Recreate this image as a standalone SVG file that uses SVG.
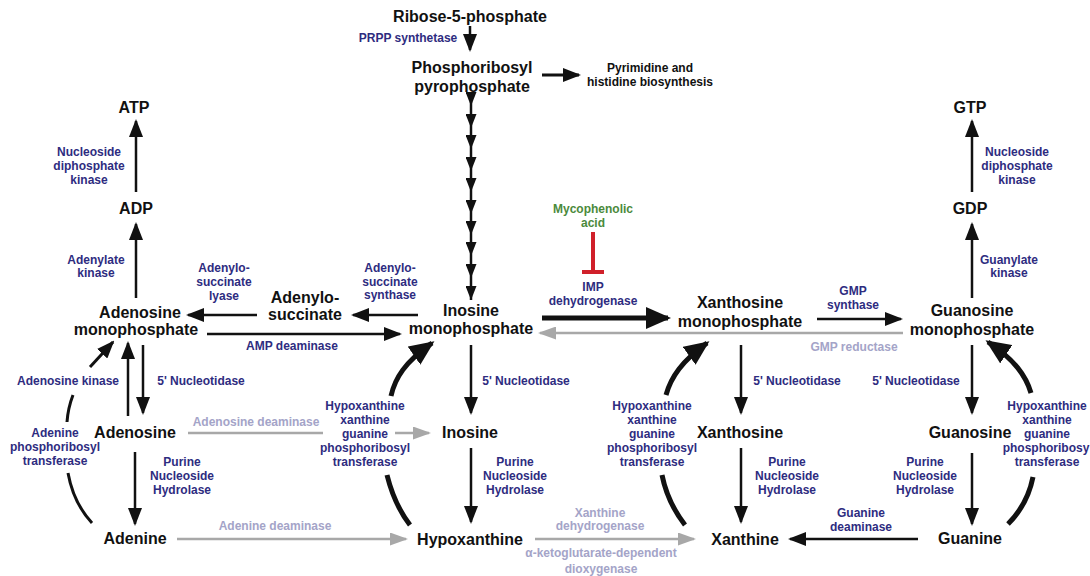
<svg xmlns="http://www.w3.org/2000/svg" width="1090" height="576" viewBox="0 0 1090 576">
<defs>
<style>
.n{font-family:"Liberation Sans",Arial,sans-serif;font-weight:bold;font-size:16px;fill:#111;text-anchor:middle}
.e{font-family:"Liberation Sans",Arial,sans-serif;font-weight:bold;font-size:12px;fill:#2e2c80;text-anchor:middle}
.g{font-family:"Liberation Sans",Arial,sans-serif;font-weight:bold;font-size:12px;fill:#a4a4c8;text-anchor:middle}
.k{font-family:"Liberation Sans",Arial,sans-serif;font-weight:bold;font-size:12px;fill:#111;text-anchor:middle}
.m{font-family:"Liberation Sans",Arial,sans-serif;font-weight:bold;font-size:12px;fill:#4b8a3c;text-anchor:middle}
.c{stroke:#111;stroke-width:2.5;fill:none;marker-end:url(#ah)}
.t{stroke:#111;stroke-width:5;fill:none}
.gr{stroke:#a8a8a8;stroke-width:2.5;fill:none}
</style>
<marker id="ah" markerUnits="userSpaceOnUse" markerWidth="18" markerHeight="14" viewBox="0 0 18 14" refX="16" refY="7" orient="auto"><path d="M0,0 L18,7 L0,14 z" fill="#111"/></marker>
<marker id="ab" markerUnits="userSpaceOnUse" markerWidth="25" markerHeight="22" viewBox="0 0 25 22" refX="22" refY="11" orient="auto"><path d="M0,0 L25,11 L0,22 z" fill="#111"/></marker>
<marker id="ag" markerUnits="userSpaceOnUse" markerWidth="18" markerHeight="13" viewBox="0 0 18 13" refX="16" refY="6.5" orient="auto"><path d="M0,0 L18,6.5 L0,13 z" fill="#a8a8a8"/></marker>
<marker id="as" markerUnits="userSpaceOnUse" markerWidth="14" markerHeight="11" viewBox="0 0 14 11" refX="14" refY="5.5" orient="auto"><path d="M0,0 L14,5.5 L0,11 z" fill="#111"/></marker>
</defs>
<rect width="1090" height="576" fill="#fff"/>

<g id="connectors">
  <path class="c" d="M470 26 V50"/>
  <path class="c" d="M542 75 H579" style="stroke-width:3"/>
  <polyline points="471,95 471,106 471,128 471,149 471,171 471,192 471,214 471,235 471,256 471,278 471,300" fill="none" stroke="#111" stroke-width="2.5" marker-mid="url(#as)" marker-end="url(#as)"/>
  <path class="c" d="M418 315 H353"/>
  <path class="c" d="M257 315 H188"/>
  <path class="c" d="M136 298 V224"/>
  <path class="c" d="M136 192 V121"/>
  <path class="c" d="M207 334 H400"/>
  <path class="c" d="M143 345 V413"/>
  <path class="c" d="M128 416 V343"/>
  <path class="c" d="M135 452 V524"/>
  <path class="gr" d="M188 433 H323"/>
  <path class="gr" d="M395 433 H429" marker-end="url(#ag)"/>
  <path class="gr" d="M177 539 H406" marker-end="url(#ag)"/>
  <path d="M92 523 C80 510 72 495 68 473" stroke="#111" stroke-width="3" fill="none"/>
  <path d="M67 422 Q68 408 73 395" stroke="#111" stroke-width="3" fill="none"/>
  <path class="c" d="M90 367 L113 342" style="stroke-width:3"/>
  <path class="c" d="M471 345 V413"/>
  <path class="c" d="M471 448 V522"/>
  <path class="t" d="M410 525 C400 512 392 495 387 475"/>
  <path class="t" d="M391 396 C395 378 405 362 432 343" marker-end="url(#ab)"/>
  <path class="t" d="M542 318 H668" marker-end="url(#ab)"/>
  <path class="gr" d="M903 333 H540" marker-end="url(#ag)"/>
  <path d="M593 232 V272 M582 272 H604" stroke="#d0202a" stroke-width="4" fill="none"/>
  <path class="c" d="M817 319 H901"/>
  <path class="c" d="M741 345 V413"/>
  <path class="c" d="M741 448 V522"/>
  <path class="gr" d="M535 539 H694" marker-end="url(#ag)"/>
  <path class="t" d="M685 525 C675 512 666 495 662 475"/>
  <path class="t" d="M666 395 C671 377 682 361 707 343" marker-end="url(#ab)"/>
  <path class="c" d="M918 539 H790"/>
  <path class="c" d="M972 298 V224"/>
  <path class="c" d="M972 192 V121"/>
  <path class="c" d="M972 345 V413"/>
  <path class="c" d="M972 453 V524"/>
  <path class="t" d="M1008 524 C1020 512 1029 497 1033 477"/>
  <path class="t" d="M1031 393 C1026 376 1015 360 988 342" marker-end="url(#ab)"/>
</g>

<g id="ribose5p"><text class="n" x="470" y="22">Ribose-5-phosphate</text></g>
<g id="prpp"><text class="n" x="472" y="73">Phosphoribosyl</text><text class="n" x="472" y="92">pyrophosphate</text></g>
<g id="pyrimidine"><text class="k" x="650" y="72">Pyrimidine and</text><text class="k" x="650" y="86">histidine biosynthesis</text></g>
<g id="imp"><text class="n" x="471" y="316">Inosine</text><text class="n" x="471" y="334">monophosphate</text></g>
<g id="adenylosuccinate"><text class="n" x="305" y="303">Adenylo-</text><text class="n" x="305" y="320">succinate</text></g>
<g id="amp"><text class="n" x="140" y="318">Adenosine</text><text class="n" x="136" y="335">monophosphate</text></g>
<g id="adp"><text class="n" x="136" y="214">ADP</text></g>
<g id="atp"><text class="n" x="134" y="113">ATP</text></g>
<g id="adenosine"><text class="n" x="135" y="438">Adenosine</text></g>
<g id="adenine"><text class="n" x="135" y="544">Adenine</text></g>
<g id="inosine"><text class="n" x="470" y="438">Inosine</text></g>
<g id="hypoxanthine"><text class="n" x="470" y="545">Hypoxanthine</text></g>
<g id="xmp"><text class="n" x="740" y="308">Xanthosine</text><text class="n" x="740" y="327">monophosphate</text></g>
<g id="xanthosine"><text class="n" x="740" y="438">Xanthosine</text></g>
<g id="xanthine"><text class="n" x="745" y="545">Xanthine</text></g>
<g id="gmp"><text class="n" x="972" y="316">Guanosine</text><text class="n" x="972" y="335">monophosphate</text></g>
<g id="gdp"><text class="n" x="970" y="214">GDP</text></g>
<g id="gtp"><text class="n" x="970" y="113">GTP</text></g>
<g id="guanosine"><text class="n" x="970" y="438">Guanosine</text></g>
<g id="guanine"><text class="n" x="970" y="544">Guanine</text></g>

<g id="labels">
  <text class="e" x="408" y="42">PRPP synthetase</text>
  <text class="e" x="89" y="156">Nucleoside</text><text class="e" x="89" y="170">diphosphate</text><text class="e" x="89" y="184">kinase</text>
  <text class="e" x="96" y="264">Adenylate</text><text class="e" x="96" y="277">kinase</text>
  <text class="e" x="224" y="272">Adenylo-</text><text class="e" x="224" y="286">succinate</text><text class="e" x="224" y="300">lyase</text>
  <text class="e" x="390" y="272">Adenylo-</text><text class="e" x="390" y="286">succinate</text><text class="e" x="390" y="299">synthase</text>
  <text class="e" x="292" y="350">AMP deaminase</text>
  <text class="e" x="68" y="385">Adenosine kinase</text>
  <text class="e" x="201" y="385">5' Nucleotidase</text>
  <text class="e" x="55" y="437">Adenine</text><text class="e" x="55" y="451">phosphoribosyl</text><text class="e" x="55" y="465">transferase</text>
  <text class="e" x="182" y="466">Purine</text><text class="e" x="182" y="480">Nucleoside</text><text class="e" x="182" y="494">Hydrolase</text>
  <text class="g" x="256" y="426">Adenosine deaminase</text>
  <text class="g" x="275" y="530">Adenine deaminase</text>
  <text class="e" x="365" y="410">Hypoxanthine</text><text class="e" x="365" y="424">xanthine</text><text class="e" x="365" y="438">guanine</text><text class="e" x="365" y="452">phosphoribosyl</text><text class="e" x="365" y="466">transferase</text>
  <text class="e" x="526" y="385">5' Nucleotidase</text>
  <text class="e" x="515" y="466">Purine</text><text class="e" x="515" y="480">Nucleoside</text><text class="e" x="515" y="494">Hydrolase</text>
  <text class="m" x="593" y="213">Mycophenolic</text><text class="m" x="593" y="227">acid</text>
  <text class="e" x="593" y="291">IMP</text><text class="e" x="593" y="305">dehydrogenase</text>
  <text class="e" x="853" y="295">GMP</text><text class="e" x="853" y="309">synthase</text>
  <text class="g" x="854" y="351">GMP reductase</text>
  <text class="e" x="797" y="385">5' Nucleotidase</text>
  <text class="e" x="652" y="410">Hypoxanthine</text><text class="e" x="652" y="424">xanthine</text><text class="e" x="652" y="438">guanine</text><text class="e" x="652" y="452">phosphoribosyl</text><text class="e" x="652" y="466">transferase</text>
  <text class="e" x="787" y="466">Purine</text><text class="e" x="787" y="480">Nucleoside</text><text class="e" x="787" y="494">Hydrolase</text>
  <text class="g" x="600" y="517">Xanthine</text><text class="g" x="600" y="530">dehydrogenase</text>
  <text class="g" x="601" y="557">α-ketoglutarate-dependent</text><text class="g" x="601" y="573">dioxygenase</text>
  <text class="e" x="861" y="517">Guanine</text><text class="e" x="861" y="531">deaminase</text>
  <text class="e" x="1017" y="156">Nucleoside</text><text class="e" x="1017" y="170">diphosphate</text><text class="e" x="1017" y="184">kinase</text>
  <text class="e" x="1009" y="264">Guanylate</text><text class="e" x="1009" y="277">kinase</text>
  <text class="e" x="916" y="385">5' Nucleotidase</text>
  <text class="e" x="925" y="466">Purine</text><text class="e" x="925" y="480">Nucleoside</text><text class="e" x="925" y="494">Hydrolase</text>
  <text class="e" x="1047" y="410">Hypoxanthine</text><text class="e" x="1047" y="424">xanthine</text><text class="e" x="1047" y="438">guanine</text><text class="e" x="1046" y="452">phosphoribosy</text><text class="e" x="1047" y="466">transferase</text>
</g>
</svg>
